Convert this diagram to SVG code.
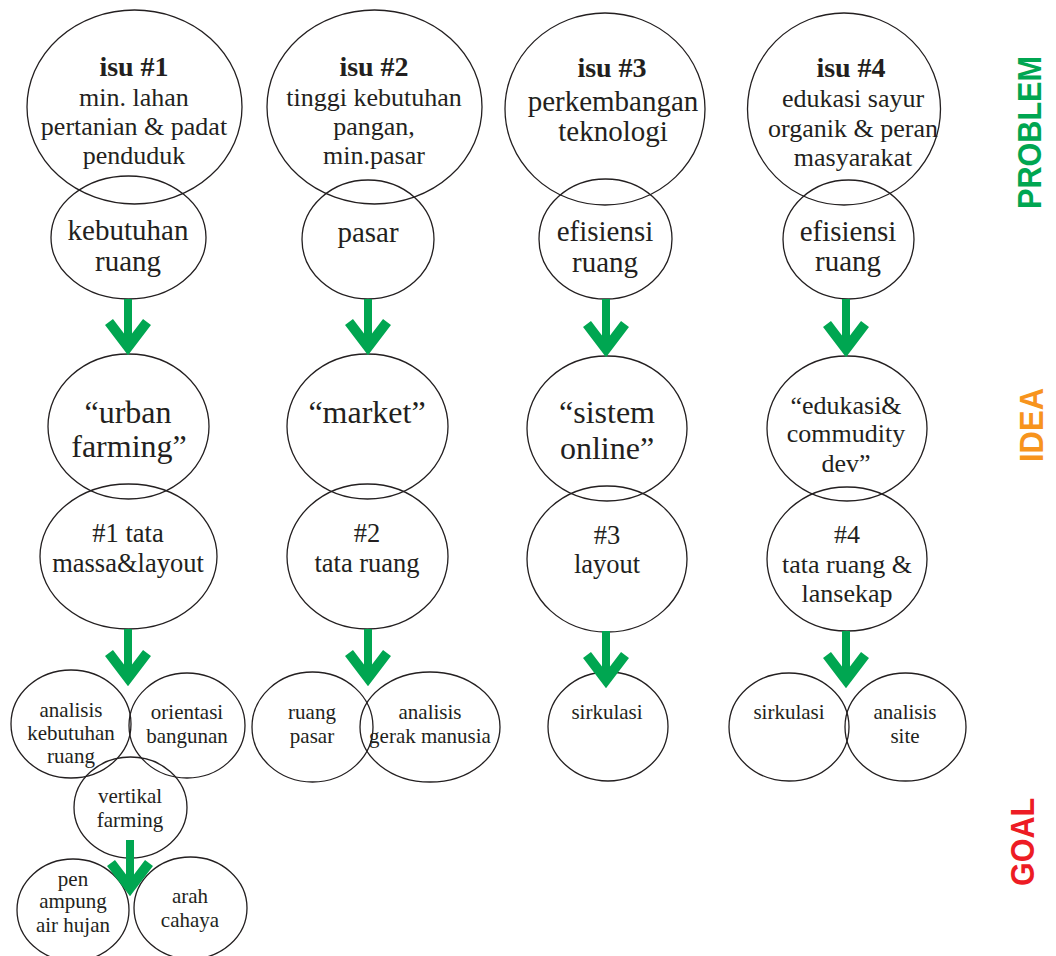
<svg xmlns="http://www.w3.org/2000/svg" width="1056" height="956" viewBox="0 0 1056 956">
<style>
ellipse{fill:none;stroke:#231f20;stroke-width:1.3}
text{font-family:"Liberation Serif","Times New Roman",serif;fill:#231f20;text-anchor:middle}
.b{font-weight:bold;font-size:28px}
.t26{font-size:26px}
.t265{font-size:26.5px}
.t29{font-size:29px}
.t32{font-size:32px}
.t21{font-size:21px}
.side{font-family:"Liberation Sans",Arial,sans-serif;font-weight:bold;font-size:33px}
.shaft{stroke:#00a651;stroke-width:8;fill:none}
.head{stroke:#00a651;stroke-width:10;fill:none;stroke-linejoin:miter;stroke-miterlimit:10}
</style>
<rect width="1056" height="956" fill="#fff"/>

<!-- Column 1 -->
<g id="isu1"><ellipse cx="134.5" cy="107" rx="107.5" ry="97"/>
<text x="134" y="76" class="b">isu #1</text>
<text x="134" y="106" class="t26">min. lahan</text>
<text x="134" y="135" class="t26">pertanian &amp; padat</text>
<text x="134" y="164" class="t26">penduduk</text></g>
<g id="kebutuhan-ruang"><ellipse cx="128.5" cy="237.5" rx="77.5" ry="61.5"/>
<text x="128" y="240" class="t29">kebutuhan</text>
<text x="128" y="271" class="t29">ruang</text></g>
<g id="urban-farming"><ellipse cx="128.5" cy="426.5" rx="80.5" ry="72.5"/>
<text x="128" y="423" class="t32">“urban</text>
<text x="129" y="457" class="t32">farming”</text></g>
<g id="tata-massa"><ellipse cx="128.5" cy="556.5" rx="88.5" ry="72.5"/>
<text x="128" y="542" class="t265">#1 tata</text>
<text x="128" y="572" class="t265">massa&amp;layout</text></g>
<g id="analisis-kebutuhan"><ellipse cx="71" cy="724" rx="60" ry="54"/>
<text x="71" y="717" class="t21">analisis</text>
<text x="71" y="740" class="t21">kebutuhan</text>
<text x="71" y="763" class="t21">ruang</text></g>
<g id="orientasi"><ellipse cx="187" cy="725.5" rx="58" ry="52.5"/>
<text x="187" y="719" class="t21">orientasi</text>
<text x="187" y="743" class="t21">bangunan</text></g>
<g id="vertikal"><ellipse cx="130.5" cy="807.5" rx="56.5" ry="50.5"/>
<text x="130" y="803" class="t21">vertikal</text>
<text x="130" y="827" class="t21">farming</text></g>
<g id="penampung"><ellipse cx="73" cy="910" rx="56" ry="51"/>
<text x="73" y="886" class="t21">pen</text>
<text x="73" y="908" class="t21">ampung</text>
<text x="73" y="932" class="t21">air hujan</text></g>
<g id="arah-cahaya"><ellipse cx="190.5" cy="908" rx="56.5" ry="51"/>
<text x="190" y="903" class="t21">arah</text>
<text x="190" y="927" class="t21">cahaya</text></g>

<!-- Column 2 -->
<g id="isu2"><ellipse cx="374.5" cy="107" rx="107.5" ry="97"/>
<text x="374" y="76" class="b">isu #2</text>
<text x="374" y="106" class="t26">tinggi kebutuhan</text>
<text x="374" y="135" class="t26">pangan,</text>
<text x="374" y="164" class="t26">min.pasar</text></g>
<g id="pasar"><ellipse cx="368" cy="239.5" rx="66" ry="59.5"/>
<text x="368" y="242" class="t29">pasar</text></g>
<g id="market"><ellipse cx="367.5" cy="426.5" rx="80.5" ry="72.5"/>
<text x="367" y="423" class="t32">“market”</text></g>
<g id="tata-ruang2"><ellipse cx="367.5" cy="556.5" rx="80.5" ry="72.5"/>
<text x="367" y="542" class="t265">#2</text>
<text x="367" y="572" class="t265">tata ruang</text></g>
<g id="ruang-pasar"><ellipse cx="312.5" cy="727" rx="60.5" ry="55"/>
<text x="312" y="719" class="t21">ruang</text>
<text x="312" y="743" class="t21">pasar</text></g>
<g id="gerak-manusia"><ellipse cx="430" cy="727" rx="70" ry="55"/>
<text x="430" y="719" class="t21">analisis</text>
<text x="430" y="743" class="t21">gerak manusia</text></g>

<!-- Column 3 -->
<g id="isu3"><ellipse cx="605" cy="109" rx="100" ry="96"/>
<text x="612" y="77" class="b">isu #3</text>
<text x="613" y="111" class="t29">perkembangan</text>
<text x="613" y="141" class="t29">teknologi</text></g>
<g id="efisiensi3"><ellipse cx="605.5" cy="239" rx="66.5" ry="60"/>
<text x="605" y="241" class="t29">efisiensi</text>
<text x="605" y="272" class="t29">ruang</text></g>
<g id="sistem-online"><ellipse cx="607" cy="428.5" rx="80" ry="72.5"/>
<text x="607" y="423" class="t32">“sistem</text>
<text x="607" y="459" class="t32">online”</text></g>
<g id="layout3"><ellipse cx="607" cy="559" rx="80" ry="73"/>
<text x="607" y="544" class="t265">#3</text>
<text x="607" y="573" class="t265">layout</text></g>
<g id="sirkulasi3"><ellipse cx="608" cy="726.5" rx="60" ry="54.5"/>
<text x="607" y="719" class="t21">sirkulasi</text></g>

<!-- Column 4 -->
<g id="isu4"><ellipse cx="844" cy="109" rx="96.5" ry="96"/>
<text x="851" y="77" class="b">isu #4</text>
<text x="853" y="107" class="t26">edukasi sayur</text>
<text x="853" y="137" class="t26">organik &amp; peran</text>
<text x="853" y="166" class="t26">masyarakat</text></g>
<g id="efisiensi4"><ellipse cx="848.5" cy="239.5" rx="65.5" ry="59.5"/>
<text x="848" y="241" class="t29">efisiensi</text>
<text x="848" y="271" class="t29">ruang</text></g>
<g id="edukasi"><ellipse cx="847" cy="428.5" rx="80" ry="72.5"/>
<text x="846" y="414" class="t26">“edukasi&amp;</text>
<text x="846" y="442" class="t26">commudity</text>
<text x="846" y="472" class="t26">dev”</text></g>
<g id="tata-ruang4"><ellipse cx="847" cy="559" rx="80" ry="72"/>
<text x="847" y="543" class="t26">#4</text>
<text x="847" y="573" class="t26">tata ruang &amp;</text>
<text x="847" y="602" class="t26">lansekap</text></g>
<g id="sirkulasi4"><ellipse cx="789" cy="727" rx="60" ry="54"/>
<text x="789" y="719" class="t21">sirkulasi</text></g>
<g id="analisis-site"><ellipse cx="905.5" cy="727" rx="60.5" ry="54"/>
<text x="905" y="719" class="t21">analisis</text>
<text x="905" y="743" class="t21">site</text></g>

<!-- Side labels -->
<g id="label-problem"><text class="side" style="fill:#00a651" transform="translate(1041,132.5) rotate(-90)" textLength="153" lengthAdjust="spacingAndGlyphs">PROBLEM</text></g>
<g id="label-idea"><text class="side" style="fill:#f7941d" transform="translate(1043,425) rotate(-90)" textLength="74" lengthAdjust="spacingAndGlyphs">IDEA</text></g>
<g id="label-goal"><text class="side" style="fill:#ed1c24" transform="translate(1034,842) rotate(-90)" textLength="88" lengthAdjust="spacingAndGlyphs">GOAL</text></g>

<!-- Connectors -->
<g id="connectors">
<path class="shaft" d="M128,299 V347 M368,299 V347 M606,299 V347 M846,299 V347"/>
<path class="head" d="M109,322 L128,347 L147,322 M349,322 L368,347 L387,322 M587,324 L606,349 L625,324 M827,324 L846,349 L865,324"/>
<path class="shaft" d="M128,629 V679 M368,629 V679 M606,631 V680 M846,631 V680"/>
<path class="head" d="M109,653 L128,678 L147,653 M349,653 L368,678 L387,653 M587,655 L606,680 L625,655 M827,655 L846,680 L865,655"/>
<path class="shaft" d="M130,840 V889"/>
<path class="head" d="M111,863 L130,888 L149,863"/>
</g>
</svg>
